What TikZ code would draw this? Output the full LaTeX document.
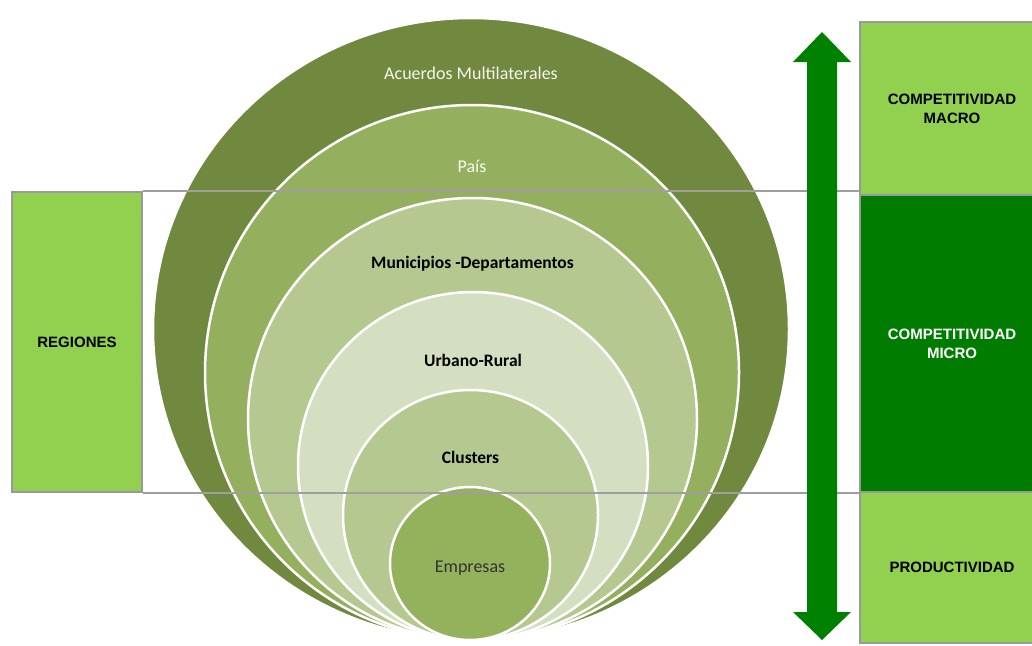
\documentclass[tikz,border=0pt]{standalone}
\usepackage{fontspec}
\setmainfont{Carlito}
\newfontfamily\boxfont{Liberation Sans}
\usetikzlibrary{positioning, shapes.geometric}
\definecolor{ringA}{RGB}{113,137,63}
\definecolor{ringB}{RGB}{148,176,94}
\definecolor{ringC}{RGB}{180,200,144}
\definecolor{ringD}{RGB}{212,223,193}
\definecolor{ringE}{RGB}{180,200,144}
\definecolor{ringF}{RGB}{148,177,92}
\definecolor{lightbox}{RGB}{146,208,80}
\definecolor{darkbox}{RGB}{0,125,0}
\definecolor{arrowgreen}{RGB}{0,128,0}
\tikzset{ring/.style = {ellipse, draw=white, line width=2.5pt, inner sep=0pt},
         lbl/.style = {font=\fontsize{18}{21}\selectfont},
         lblb/.style = {font=\bfseries\fontsize{17.5}{21}\selectfont},
         level/.style = {draw=gray!80, line width=1.5pt, inner sep=0pt,
                         align=center, font=\boxfont\bfseries\fontsize{15}{19}\selectfont},
         sepline/.style = {draw=gray!75, line width=2pt}}

\begin{document}
\begin{tikzpicture}[x=1pt, y=-1pt]
    \useasboundingbox (0,0) rectangle (1032,645);

    \node[ring, fill=ringA, minimum width=636pt, minimum height=622pt] (1) at (471,329) {};
    \node[ring, fill=ringB, minimum width=534pt, minimum height=535pt] (2) at (472,372.5) {};
    \node[ring, fill=ringC, minimum width=449pt, minimum height=442pt] (3) at (472.5,419) {};
    \node[ring, fill=ringD, minimum width=350pt, minimum height=348pt] (4) at (473,466) {};
    \node[ring, fill=ringE, minimum width=255pt, minimum height=250pt] (5) at (470.5,515) {};
    \node[ring, fill=ringF, minimum width=160pt, minimum height=153pt] (6) at (470,563.5) {};

    \node[lbl, text=white!92!ringA] (t1) at ([yshift=-57pt]1.north) {Acuerdos Multilaterales};
    \node[lbl, text=white!92!ringB] (t2) at ([yshift=-63pt]2.north) {País};
    \node[lblb] (t3) at ([yshift=-67pt]3.north) {Municipios -Departamentos};
    \node[lblb] (t4) at ([yshift=-70pt]4.north) {Urbano-Rural};
    \node[lblb] (t5) at ([yshift=-69pt]5.north) {Clusters};
    \node[lbl, text=black!80] (t6) at ([yshift=-5pt]6.center) {Empresas};

    \node[level, fill=lightbox, minimum width=130pt, minimum height=300pt] (reg) at (77,342) {REGIONES};
    \node[level, fill=lightbox, minimum width=184pt, minimum height=173pt] (macro) at (952,108.5) {COMPETITIVIDAD\\ MACRO};
    \node[level, fill=darkbox, text=white, minimum width=184pt, minimum height=297pt] (micro) at (952,343.5) {COMPETITIVIDAD\\ MICRO};
    \node[level, fill=lightbox, minimum width=184pt, minimum height=151pt] (prod) at (952,567.5) {PRODUCTIVIDAD};

    \draw[sepline] (reg.north east) -- (reg.north east -| micro.west);
    \draw[sepline] (reg.south east) -- (reg.south east -| micro.west);

    \fill[arrowgreen] (822,32) -- (851,62) -- (837,62) -- (837,612) -- (851,612) -- (822,640)
        -- (793,612) -- (807,612) -- (807,62) -- (793,62) -- cycle;
\end{tikzpicture}
\end{document}
